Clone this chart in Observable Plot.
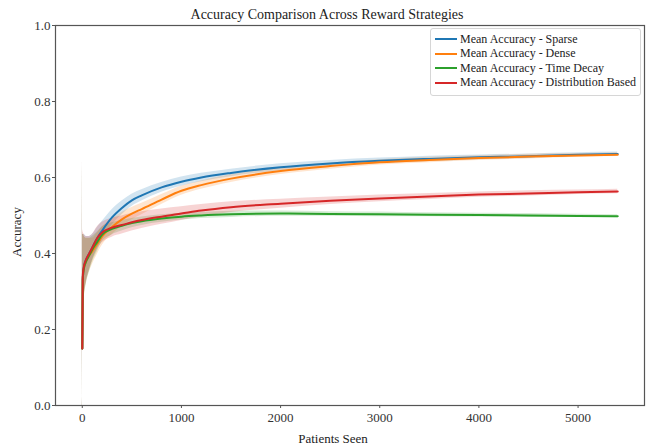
<!DOCTYPE html>
<html>
<head>
<meta charset="utf-8">
<script src="https://cdn.jsdelivr.net/npm/d3@7"></script>
<script src="https://cdn.jsdelivr.net/npm/@observablehq/plot@0.6"></script>
<style>
  html, body { margin: 0; padding: 0; background: #fff; }
  #wrap { position: relative; width: 648px; height: 447px; font-family: 'Liberation Serif', 'DejaVu Serif', 'Noto Serif', serif; }
  #legend { position: absolute; left: 430px; top: 28px; width: 209px; padding: 3px 0 5px 0; border: 1px solid #d6d6d6; border-radius: 3px; background: rgba(255,255,255,0.85); }
  .item { display: flex; align-items: center; height: 14.5px; font-size: 12px; color: #222; white-space: nowrap; }
  .sw { width: 22px; height: 2px; margin: 0 3px 0 4px; }
  svg text { font-family: 'Liberation Serif', 'DejaVu Serif', 'Noto Serif', serif; }
</style>
</head>
<body>
<div id="wrap"></div>
<script>
const title = "Accuracy Comparison Across Reward Strategies";
const xLabel = "Patients Seen";
const yLabel = "Accuracy";
const seriesNames = ["Mean Accuracy - Sparse", "Mean Accuracy - Dense", "Mean Accuracy - Time Decay", "Mean Accuracy - Distribution Based"];
const seriesColors = ["#1f77b4", "#ff7f0e", "#2ca02c", "#d62728"];
const xTicks = [0, 1000, 2000, 3000, 4000, 5000];
const yTicks = [0, 0.2, 0.4, 0.6, 0.8, 1.0];

const patients = [0, 5, 10, 20, 40, 70, 100, 150, 200, 300, 400, 500, 600, 800, 1000, 1200, 1500, 2000, 2500, 3000, 3500, 4000, 4500, 5000, 5400];
const sparse     = [0.15, 0.33, 0.35, 0.37, 0.385, 0.40, 0.415, 0.44, 0.46, 0.495, 0.52, 0.54, 0.553, 0.574, 0.589, 0.60, 0.612, 0.627, 0.637, 0.644, 0.649, 0.653, 0.656, 0.66, 0.662];
const dense      = [0.15, 0.33, 0.35, 0.365, 0.38, 0.395, 0.405, 0.425, 0.445, 0.47, 0.49, 0.505, 0.517, 0.542, 0.565, 0.58, 0.597, 0.617, 0.63, 0.64, 0.646, 0.651, 0.655, 0.658, 0.66];
const timeDecay  = [0.15, 0.33, 0.35, 0.365, 0.38, 0.395, 0.41, 0.43, 0.45, 0.465, 0.473, 0.48, 0.485, 0.492, 0.497, 0.50, 0.503, 0.505, 0.504, 0.503, 0.502, 0.501, 0.50, 0.499, 0.498];
const distBased  = [0.15, 0.34, 0.355, 0.37, 0.385, 0.40, 0.415, 0.44, 0.455, 0.468, 0.475, 0.482, 0.488, 0.497, 0.505, 0.513, 0.522, 0.531, 0.539, 0.545, 0.55, 0.555, 0.558, 0.561, 0.563];

const sparseSpread    = [0.5, 0.12, 0.10, 0.08, 0.06, 0.045, 0.035, 0.028, 0.024, 0.02, 0.018, 0.016, 0.015, 0.013, 0.012, 0.011, 0.01, 0.009, 0.008, 0.007, 0.007, 0.006, 0.006, 0.005, 0.005];
const denseSpread     = [0.5, 0.12, 0.10, 0.08, 0.06, 0.045, 0.035, 0.028, 0.024, 0.02, 0.018, 0.016, 0.015, 0.013, 0.012, 0.011, 0.01, 0.009, 0.008, 0.007, 0.007, 0.006, 0.006, 0.005, 0.005];
const timeSpread      = [0.5, 0.12, 0.10, 0.08, 0.06, 0.045, 0.035, 0.026, 0.02, 0.016, 0.014, 0.012, 0.011, 0.01, 0.009, 0.008, 0.008, 0.007, 0.006, 0.006, 0.005, 0.005, 0.005, 0.004, 0.004];
const distSpread      = [0.5, 0.12, 0.10, 0.08, 0.06, 0.045, 0.035, 0.03, 0.027, 0.025, 0.024, 0.023, 0.022, 0.02, 0.018, 0.016, 0.014, 0.012, 0.01, 0.009, 0.008, 0.007, 0.007, 0.006, 0.006];

const allMeans = [sparse, dense, timeDecay, distBased];
const allSpreads = [sparseSpread, denseSpread, timeSpread, distSpread];

const rows = [];
seriesNames.forEach((name, s) => {
  patients.forEach((p, i) => {
    rows.push({series: name, x: p, y: allMeans[s][i], lo: allMeans[s][i] - allSpreads[s][i], hi: allMeans[s][i] + allSpreads[s][i]});
  });
});

const font = "'Liberation Serif', 'DejaVu Serif', 'Noto Serif', serif";

const chart = Plot.plot({
  width: 648,
  height: 447,
  marginLeft: 55,
  marginRight: 4,
  marginTop: 25,
  marginBottom: 42,
  style: {fontFamily: font, fontSize: "13px", color: "#333", background: "white"},
  x: {domain: [-270, 5670], label: null},
  y: {domain: [0, 1], label: null},
  color: {domain: seriesNames, range: seriesColors},
  marks: [
    Plot.areaY(rows, {x: "x", y1: "lo", y2: "hi", z: "series", fill: "series", fillOpacity: 0.2, curve: "monotone-x", clip: true}),
    Plot.lineY(rows, {x: "x", y: "y", z: "series", stroke: "series", strokeWidth: 2, curve: "monotone-x", clip: true}),
    Plot.frame({stroke: "#555", strokeWidth: 1.2}),
    Plot.axisX({ticks: xTicks, tickFormat: d3.format("d"), tickSize: 3, tickPadding: 4, stroke: "#555", fontSize: 13, label: null}),
    Plot.axisY({ticks: yTicks, tickFormat: d3.format(".1f"), tickSize: 3, tickPadding: 2, stroke: "#555", fontSize: 13, label: null})
  ]
});

const svg = d3.select(chart);
svg.append("text")
  .attr("x", 327).attr("y", 16)
  .attr("text-anchor", "middle").attr("dominant-baseline", "middle")
  .attr("font-size", 14).attr("fill", "#222").text(title);
svg.append("text")
  .attr("x", 333).attr("y", 440)
  .attr("text-anchor", "middle").attr("dominant-baseline", "middle")
  .attr("font-size", 13).attr("fill", "#222").text(xLabel);
svg.append("text")
  .attr("transform", "translate(18,232) rotate(-90)")
  .attr("text-anchor", "middle").attr("dominant-baseline", "middle")
  .attr("font-size", 13).attr("fill", "#222").text(yLabel);

const wrap = document.getElementById("wrap");
wrap.appendChild(chart);

const legend = document.createElement("div");
legend.id = "legend";
seriesNames.forEach((name, i) => {
  const item = document.createElement("div");
  item.className = "item";
  const sw = document.createElement("span");
  sw.className = "sw";
  sw.style.background = seriesColors[i];
  const label = document.createElement("span");
  label.textContent = name;
  item.appendChild(sw);
  item.appendChild(label);
  legend.appendChild(item);
});
wrap.appendChild(legend);
</script>
</body>
</html>
